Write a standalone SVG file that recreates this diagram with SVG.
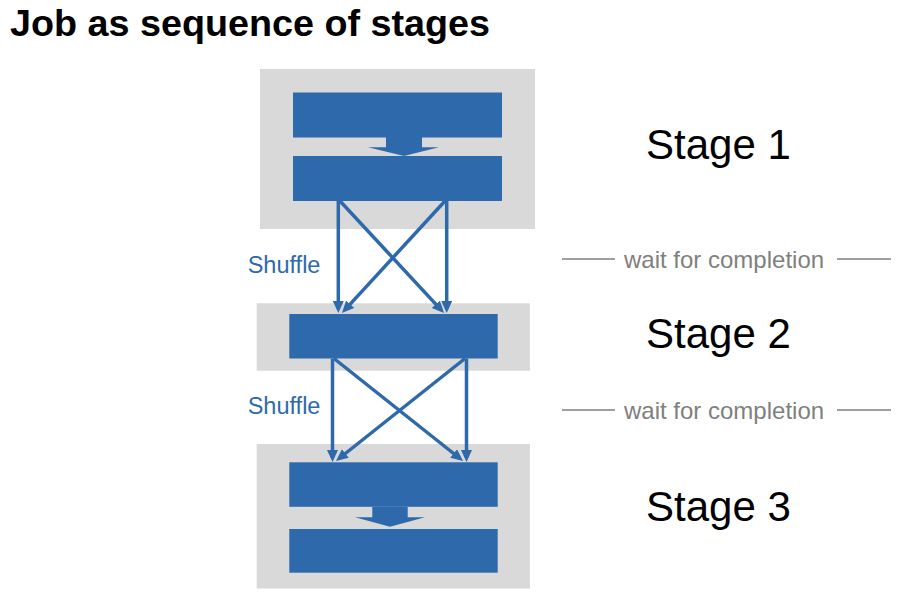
<svg xmlns="http://www.w3.org/2000/svg" width="902" height="600" viewBox="0 0 902 600">
<style>
.bg{fill:#D9D9D9}
.blk{fill:#2E69AC}
.con{stroke:#2E69AC;stroke-width:3.5;fill:none;marker-end:url(#ah)}
.sep{stroke:#7F7F7F;stroke-width:1.5}
.stage{font-family:"Liberation Sans",Arial,sans-serif;font-size:42px;fill:#000}
.wait{font-family:"Liberation Sans",Arial,sans-serif;font-size:24px;fill:#7F7F7F}
.shuf{font-family:"Liberation Sans",Arial,sans-serif;font-size:23.5px;fill:#2E69AC}
.title{font-family:"Liberation Sans",Arial,sans-serif;font-size:37.5px;font-weight:bold;fill:#000}
</style>
<defs>
<marker id="ah" markerUnits="userSpaceOnUse" markerWidth="13" markerHeight="12" refX="8" refY="5.5" orient="auto">
<path d="M0,0 L12,5.5 L0,11 z" fill="#2E69AC"/>
</marker>
</defs>
<text class="title" x="10" y="36" textLength="480" lengthAdjust="spacingAndGlyphs">Job as sequence of stages</text>
<g id="stage1">
<rect class="bg" x="260" y="69" width="275" height="160"/>
<rect class="blk" x="293" y="92.5" width="209" height="45"/>
<polygon class="blk" points="386,137 422,137 422,147.3 439,147.3 404,156 368,147.3 386,147.3"/>
<rect class="blk" x="293" y="156" width="209" height="45"/>
</g>
<g id="stage2">
<rect class="bg" x="256.7" y="303.3" width="273.3" height="67.4"/>
<rect class="blk" x="289.3" y="314" width="208.4" height="44.5"/>
</g>
<g id="stage3">
<rect class="bg" x="256.7" y="444" width="273.3" height="144.5"/>
<rect class="blk" x="289.3" y="462.3" width="208.4" height="44.5"/>
<polygon class="blk" points="372.3,506.8 407.7,506.8 407.7,517.3 425,517.3 390,526.8 355,517.3 372.3,517.3"/>
<rect class="blk" x="289.3" y="529" width="208.4" height="43.7"/>
</g>
<g id="connectors">
<line class="con" x1="338.3" y1="201" x2="338.3" y2="309"/>
<line class="con" x1="446.7" y1="201" x2="446.7" y2="309"/>
<line class="con" x1="340" y1="201" x2="441.3" y2="310.1"/>
<line class="con" x1="445" y1="201" x2="344.7" y2="310.1"/>
<line class="con" x1="332.5" y1="358.5" x2="332.5" y2="458"/>
<line class="con" x1="466.5" y1="358.5" x2="466.5" y2="458"/>
<line class="con" x1="334" y1="358.5" x2="459.9" y2="458.5"/>
<line class="con" x1="465" y1="358.5" x2="339.1" y2="458.5"/>
</g>
<g id="labels">
<text class="shuf" x="247.7" y="272.5">Shuffle</text>
<text class="shuf" x="247.7" y="414">Shuffle</text>
<text class="stage" x="646" y="159">Stage 1</text>
<text class="stage" x="646" y="347.5">Stage 2</text>
<text class="stage" x="646" y="521">Stage 3</text>
</g>
<g id="separators">
<line class="sep" x1="562" y1="259" x2="615" y2="259"/>
<line class="sep" x1="837" y1="259" x2="891" y2="259"/>
<text class="wait" x="624" y="267.5">wait for completion</text>
<line class="sep" x1="562" y1="410" x2="615" y2="410"/>
<line class="sep" x1="837" y1="410" x2="891" y2="410"/>
<text class="wait" x="624" y="418.5">wait for completion</text>
</g>
</svg>
